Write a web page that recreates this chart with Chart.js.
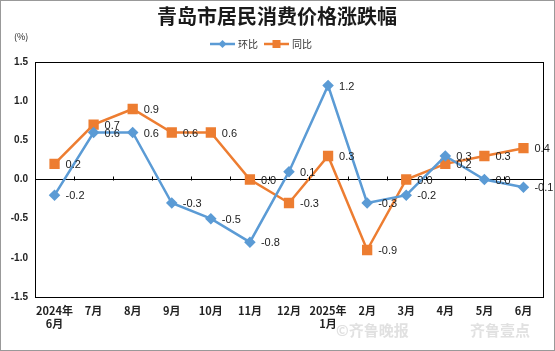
<!DOCTYPE html>
<html>
<head>
<meta charset="utf-8">
<script src="https://cdn.jsdelivr.net/npm/chart.js@4/dist/chart.umd.min.js"></script>
<style>
  html, body { margin: 0; padding: 0; background: #fff; }
  canvas { display: block; }
</style>
</head>
<body>
<canvas id="c" width="555" height="351"></canvas>
<script>
const months = [['2024年', '6月'], '7月', '8月', '9月', '10月', '11月', '12月', ['2025年', '1月'], '2月', '3月', '4月', '5月', '6月'];
const huanbi = [-0.2, 0.6, 0.6, -0.3, -0.5, -0.8, 0.1, 1.2, -0.3, -0.2, 0.3, 0.0, -0.1];
const tongbi = [0.2, 0.7, 0.9, 0.6, 0.6, 0.0, -0.3, 0.3, -0.9, 0.0, 0.2, 0.3, 0.4];
const yTicks = [-1.5, -1.0, -0.5, 0.0, 0.5, 1.0, 1.5];

const BLUE = '#5B9BD5';
const ORANGE = '#ED7D31';
const FONT = '"Noto Sans CJK SC", "Noto Sans", sans-serif';

// title, unit, legend, frame, zero-line ticks and point labels
const extras = {
  id: 'extras',
  beforeDraw(chart) {
    const ctx = chart.ctx;
    ctx.save();
    ctx.fillStyle = '#fff';
    ctx.fillRect(0, 0, chart.width, chart.height);
    ctx.strokeStyle = '#999';
    ctx.lineWidth = 1;
    ctx.strokeRect(0.5, 0.5, chart.width - 1, chart.height - 1);
    ctx.restore();
  },
  afterDraw(chart) {
    const ctx = chart.ctx;
    const a = chart.chartArea;
    const x = chart.scales.x, y = chart.scales.y;
    ctx.save();

    // frame
    ctx.strokeStyle = '#000';
    ctx.lineWidth = 1;
    ctx.strokeRect(Math.round(a.left) + 0.5, Math.round(a.top) + 0.5, Math.round(a.right - a.left), Math.round(a.bottom - a.top));

    // little ticks on zero line
    const y0 = Math.round(y.getPixelForValue(0)) + 0.5;
    ctx.beginPath();
    for (let i = 0; i < months.length - 1; i++) {
      const px = Math.round((x.getPixelForValue(i) + x.getPixelForValue(i + 1)) / 2) + 0.5;
      ctx.moveTo(px, y0);
      ctx.lineTo(px, y0 - 4);
    }
    ctx.stroke();

    // title
    ctx.fillStyle = '#1a1a1a';
    ctx.font = 'bold 20px ' + FONT;
    ctx.textAlign = 'center';
    ctx.textBaseline = 'middle';
    ctx.fillText('青岛市居民消费价格涨跌幅', 277, 16);

    // unit
    ctx.font = '9px ' + FONT;
    ctx.fillStyle = '#222';
    ctx.textAlign = 'left';
    ctx.fillText('(%)', 14, 37);

    // legend
    const items = [
      { label: '环比', color: BLUE, shape: 'diamond', x0: 210 },
      { label: '同比', color: ORANGE, shape: 'square', x0: 264 }
    ];
    const ly = 44;
    items.forEach(it => {
      ctx.strokeStyle = it.color;
      ctx.lineWidth = 2.5;
      ctx.beginPath();
      ctx.moveTo(it.x0, ly);
      ctx.lineTo(it.x0 + 25, ly);
      ctx.stroke();
      ctx.fillStyle = it.color;
      const cx = it.x0 + 12.5;
      if (it.shape === 'diamond') {
        ctx.beginPath();
        ctx.moveTo(cx, ly - 4); ctx.lineTo(cx + 4, ly); ctx.lineTo(cx, ly + 4); ctx.lineTo(cx - 4, ly);
        ctx.closePath(); ctx.fill();
      } else {
        ctx.fillRect(cx - 4, ly - 4, 8, 8);
      }
      ctx.fillStyle = '#333';
      ctx.font = '10px ' + FONT;
      ctx.textAlign = 'left';
      ctx.fillText(it.label, it.x0 + 28, ly);
    });

    // point labels
    ctx.font = '11px "Liberation Sans", Arial, sans-serif';
    ctx.fillStyle = '#222';
    ctx.textAlign = 'left';
    ctx.textBaseline = 'middle';
    chart.data.datasets.forEach((ds, di) => {
      chart.getDatasetMeta(di).data.forEach((pt, i) => {
        ctx.fillText(ds.data[i].toFixed(1), pt.x + 11, pt.y + 1);
      });
    });

    // watermark
    ctx.font = 'bold 15px ' + FONT;
    ctx.fillStyle = 'rgba(200,200,200,0.55)';
    ctx.textAlign = 'left';
    ctx.fillText('©齐鲁晚报', 336, 330);
    ctx.fillText('齐鲁壹点', 470, 330);
    ctx.restore();
  }
};

new Chart(document.getElementById('c'), {
  type: 'line',
  data: {
    labels: months,
    datasets: [
      {
        label: '环比', data: huanbi, borderColor: BLUE, backgroundColor: BLUE,
        borderWidth: 2.5, pointStyle: 'rectRot', pointRadius: 4, pointHoverRadius: 4, tension: 0
      },
      {
        label: '同比', data: tongbi, borderColor: ORANGE, backgroundColor: ORANGE,
        borderWidth: 2.5, pointStyle: 'rect', pointRadius: 5.5, pointHoverRadius: 5.5, tension: 0
      }
    ]
  },
  options: {
    responsive: false,
    animation: false,
    events: [],
    layout: { padding: { top: 62, right: 12, left: 0, bottom: 0 } },
    plugins: { legend: { display: false }, title: { display: false }, tooltip: { enabled: false } },
    scales: {
      x: {
        offset: true,
        grid: { display: false },
        border: { display: false },
        ticks: {
          color: '#222', font: { family: FONT, size: 11, weight: 'bold' },
          padding: -1, maxRotation: 0, autoSkip: false
        },
        afterFit(s) { s.height = 54; }
      },
      y: {
        min: -1.5, max: 1.5,
        afterBuildTicks(s) { s.ticks = yTicks.map(v => ({ value: v })); },
        grid: {
          drawTicks: false,
          color: c => (c.tick && c.tick.value === 0 ? '#000' : 'rgba(0,0,0,0)'),
          lineWidth: 1
        },
        border: { display: false },
        ticks: {
          color: '#222', font: { family: '"Liberation Sans", Arial, sans-serif', size: 10, weight: 'bold' },
          padding: 7,
          callback: v => Number(v).toFixed(1)
        },
        afterFit(s) { s.width = 35; }
      }
    }
  },
  plugins: [extras]
});
</script>
</body>
</html>
